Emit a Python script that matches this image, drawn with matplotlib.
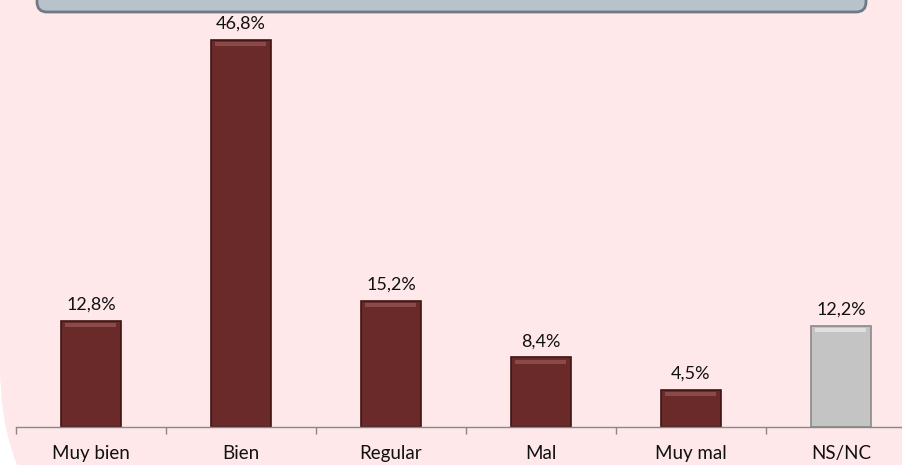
import matplotlib
matplotlib.use("Agg")
import matplotlib.pyplot as plt
from matplotlib.patches import FancyBboxPatch
from matplotlib.transforms import IdentityTransform
import numpy as np

# datos
categorias = ["Muy bien", "Bien", "Regular", "Mal", "Muy mal", "NS/NC"]
valores = [12.8, 46.8, 15.2, 8.4, 4.5, 12.2]
etiquetas = ["12,8%", "46,8%", "15,2%", "8,4%", "4,5%", "12,2%"]
colores = ["#6a2a2a", "#6a2a2a", "#6a2a2a", "#6a2a2a", "#6a2a2a", "#c4c4c4"]
brillos = ["#8a4a4a", "#8a4a4a", "#8a4a4a", "#8a4a4a", "#8a4a4a", "#e0e0e0"]
bordes = ["#3e1414", "#3e1414", "#3e1414", "#3e1414", "#3e1414", "#8a8a8a"]

plt.rcParams['font.family'] = ['Lato', 'DejaVu Sans']

fig = plt.figure(figsize=(9.03, 4.65), dpi=100)
fig.patch.set_facecolor("white")

# fondo rosa con esquinas redondeadas (en pixeles)
fondo = FancyBboxPatch((0, -100), 925, 765, boxstyle="round,pad=0,rounding_size=200",
                       transform=IdentityTransform(), facecolor="#fee8ea",
                       edgecolor="none", zorder=-2)
fig.patches.append(fondo)

# caja gris del titulo (cortada arriba)
caja = FancyBboxPatch((37, 453), 829, 60, boxstyle="round,pad=0,rounding_size=10",
                      transform=IdentityTransform(), facecolor="#b8c2cb",
                      edgecolor="#6f7a84", linewidth=2, zorder=-1)
fig.patches.append(caja)

ax = fig.add_axes([16 / 903, 38 / 465, 900 / 903, 427 / 465])
ax.set_facecolor("none")

x = np.arange(len(categorias))
barras = ax.bar(x, valores, width=0.4, color=colores, edgecolor=bordes, linewidth=1.2, zorder=2)
# brillo en la parte superior de cada barra (efecto biselado)
ax.bar(x, [0.5] * len(x), bottom=np.array(valores) - 0.75, width=0.34,
       color=brillos, linewidth=0, zorder=3)

for b, et in zip(barras, etiquetas):
    ax.annotate(et, (b.get_x() + b.get_width() / 2, b.get_height()),
                xytext=(0, 6), textcoords="offset points",
                ha="center", va="bottom", fontsize=13, color="#111111")

ax.set_xlim(-0.5, len(categorias) - 0.5)
ax.set_ylim(0, 51.6)
ax.set_xticks(x)
ax.set_xticklabels(categorias, fontsize=13.5, color="#111111")
ax.set_xticks(np.arange(len(categorias) + 1) - 0.5, minor=True)
ax.tick_params(axis="x", which="major", length=0, pad=13)
ax.tick_params(axis="x", which="minor", length=5, color="#888888", width=1)
ax.set_yticks([])
for s in ["left", "top", "right"]:
    ax.spines[s].set_visible(False)
ax.spines["bottom"].set_color("#888888")
ax.spines["bottom"].set_linewidth(1)

fig.savefig("out.png", dpi=100)
